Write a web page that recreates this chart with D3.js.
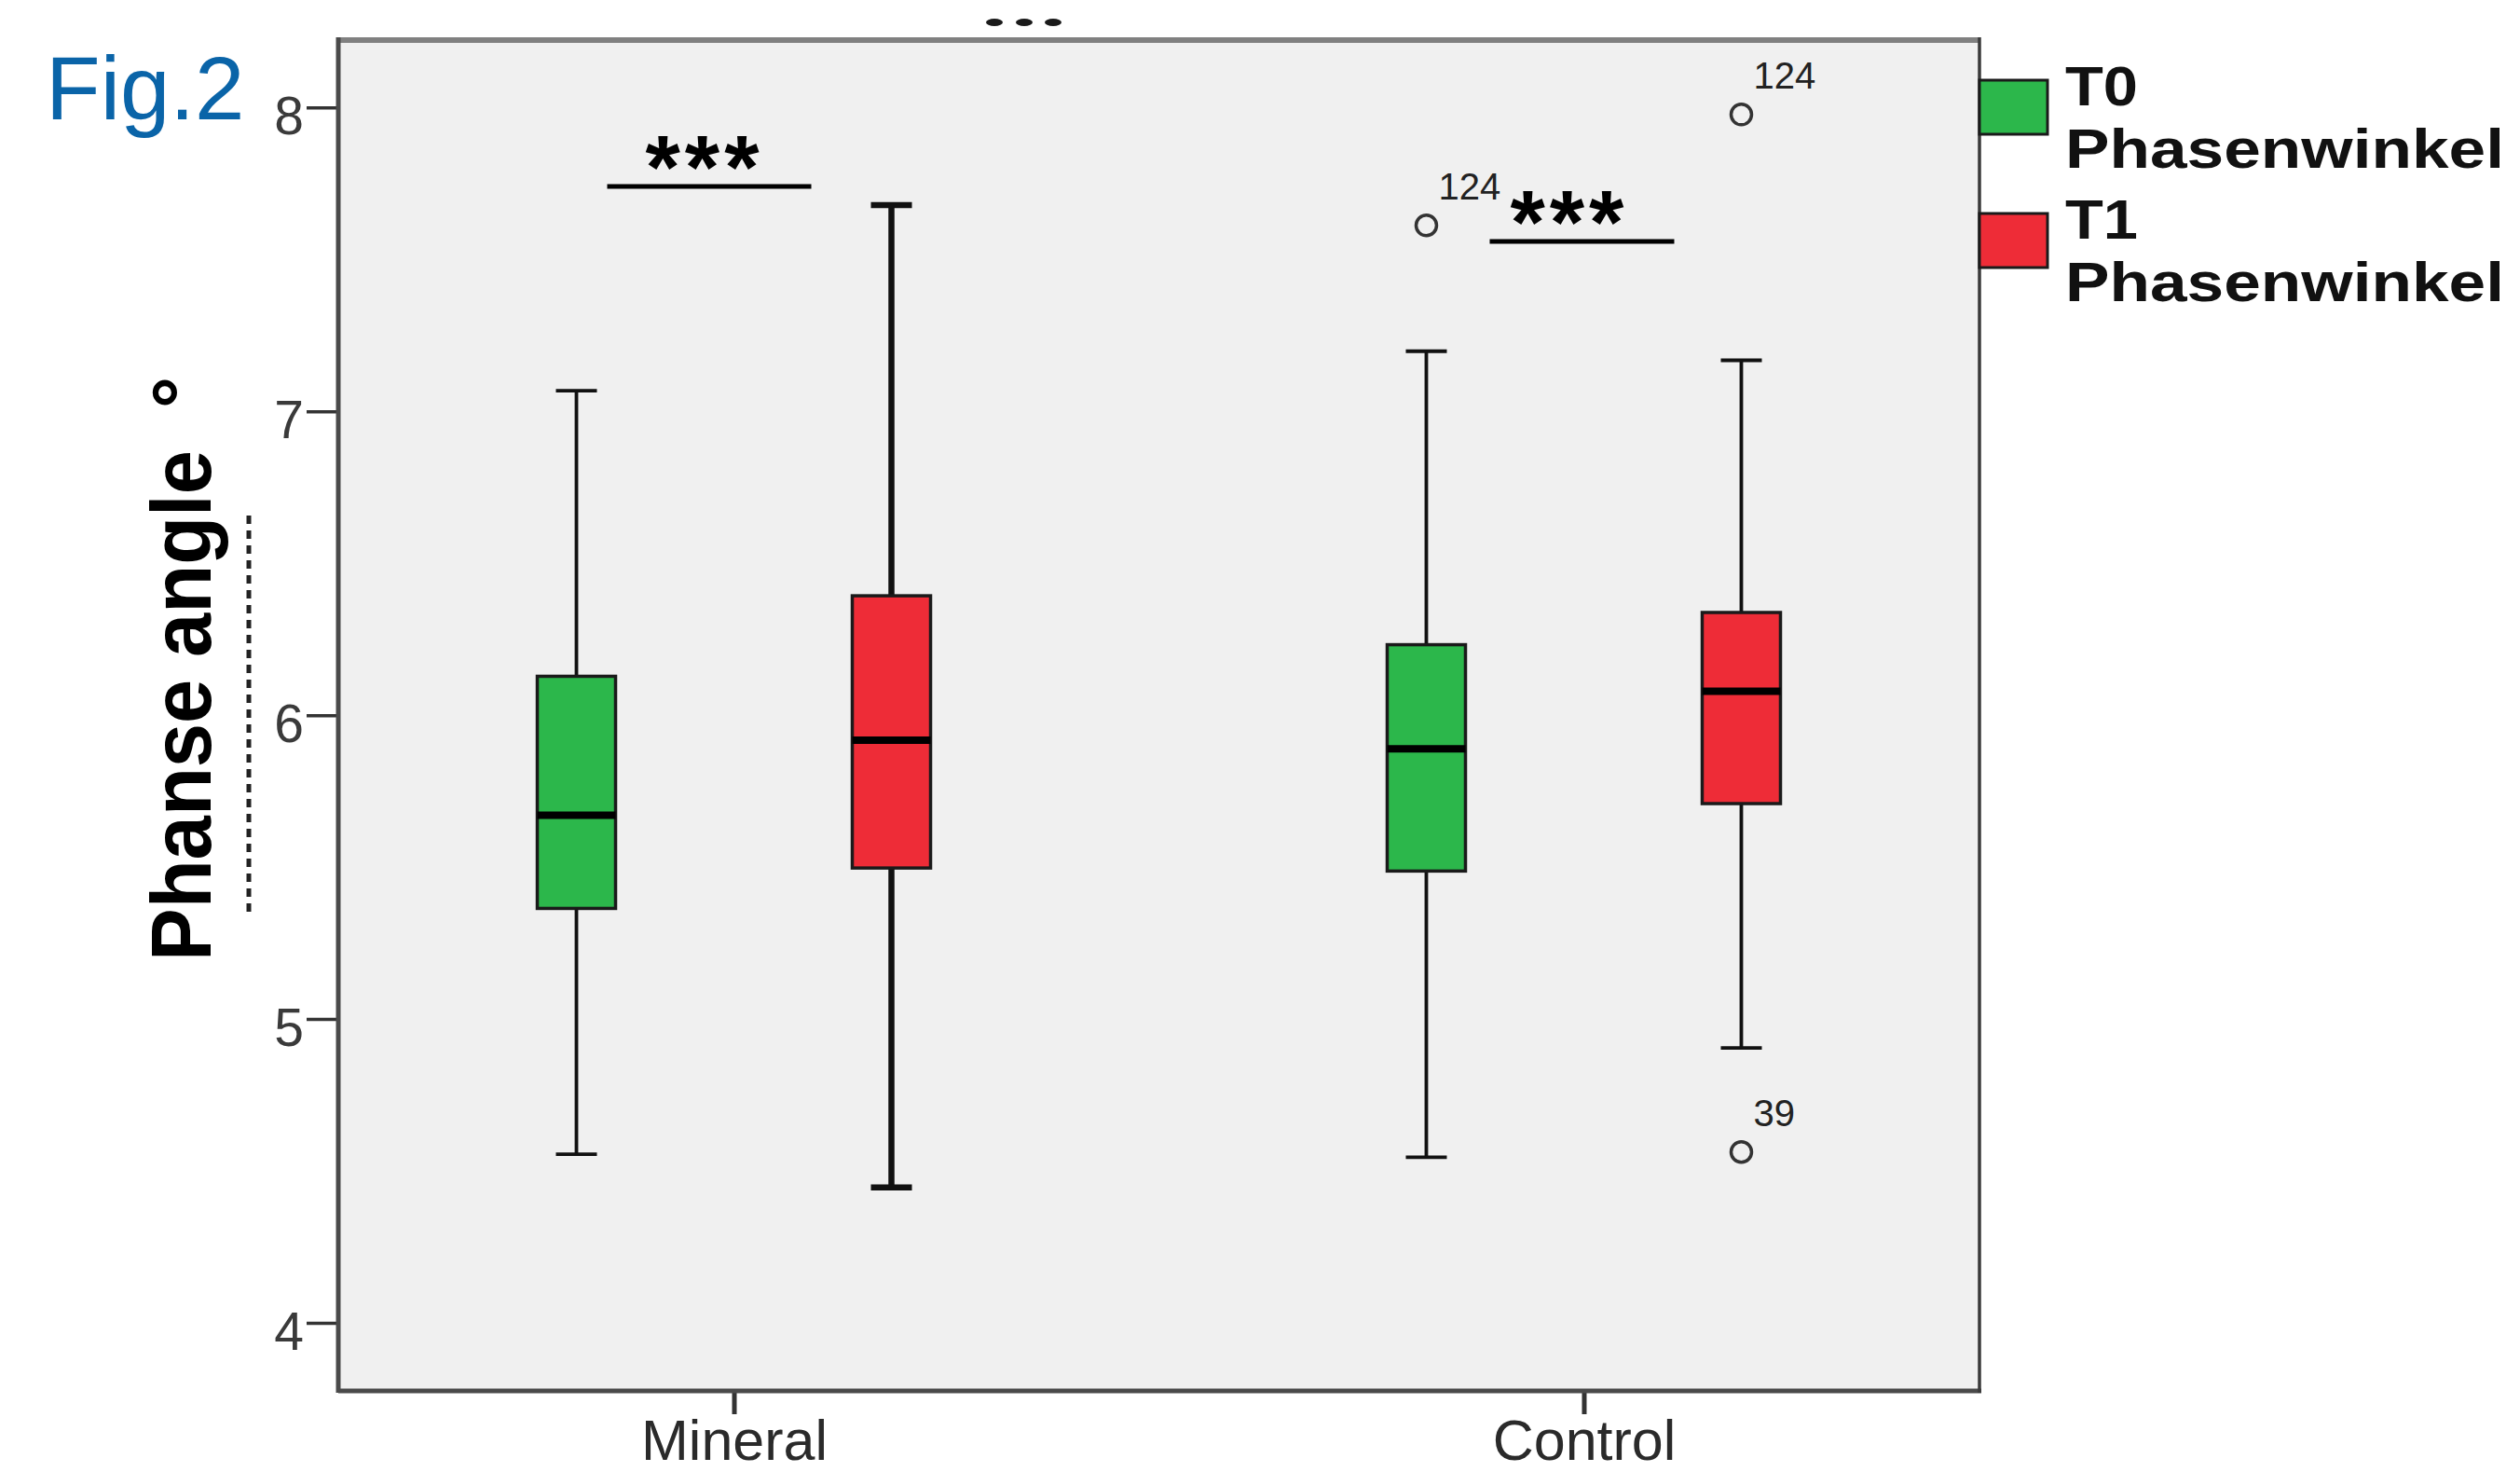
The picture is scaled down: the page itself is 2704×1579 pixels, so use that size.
<!DOCTYPE html>
<html><head><meta charset="utf-8">
<script src="https://cdn.jsdelivr.net/npm/d3@7"></script>
<style>
body{margin:0;background:#fff}
svg{display:block}
text{font-family:"Liberation Sans",Arial,Helvetica,sans-serif}
</style>
</head><body>
<svg id="c" width="2704" height="1579"></svg>
<script>
// ---------- data ----------
const groups = ["Mineral", "Control"];
const timepoints = ["T0", "T1"];
const legendTitles = ["T0", "T1"];
const legendSub = ["Phasenwinkel", "Phasenwinkel"];
const yTicks = [4, 5, 6, 7, 8];
// [group][timepoint]
const whiskerLow  = [[4.555, 4.446], [4.545, 4.905]];
const q1          = [[5.364, 5.497], [5.487, 5.709]];
const median      = [[5.671, 5.918], [5.889, 6.079]];
const q3          = [[6.128, 6.393], [6.232, 6.338]];
const whiskerHigh = [[7.068, 7.679], [7.198, 7.168]];
const outlierGroup = ["Control", "Control", "Control"];
const outlierTime  = ["T0", "T1", "T1"];
const outlierValue = [7.612, 7.977, 4.562];
const outlierLabel = ["124", "124", "39"];
const sigGroup = ["Mineral", "Control"];
const sigValue = [7.740, 7.559];
const sigLabel = ["***", "***"];
const yTitle = "Phanse angle";
const figLabel = "Fig.2";

// ---------- layout ----------
const L = 363, R = 2124, T = 43, B = 1492;
const colors = {T0: "#2cb74b", T1: "#ee2c37"};
const svg = d3.select("#c");

const y = d3.scaleLinear().domain([3.776, 8.222]).range([B, T]);
const x = d3.scalePoint().domain(groups).range([L, R]).padding(0.4655);
const inner = d3.scalePoint().domain(timepoints).range([-169, 169]);

// plot background
svg.append("rect").attr("x", L).attr("y", T).attr("width", R - L).attr("height", B - T).attr("fill", "#f0f0f0");

// axes
const ya = svg.append("g").attr("transform", `translate(${L},0)`)
  .call(d3.axisLeft(y).tickValues(yTicks).tickSize(34).tickPadding(3).tickFormat(d3.format("d")));
ya.select(".domain").remove();
ya.selectAll(".tick line").attr("stroke", "#333").attr("stroke-width", 3.5);
ya.selectAll(".tick text").attr("font-size", 57).attr("fill", "#3a3a3a").attr("dy", "0.5em")
  .style("font-family", '"Liberation Sans",Arial,sans-serif');

const xa = svg.append("g").attr("transform", `translate(0,${B})`)
  .call(d3.axisBottom(x).tickSize(25).tickPadding(6));
xa.select(".domain").remove();
xa.selectAll(".tick line").attr("stroke", "#333").attr("stroke-width", 5);
xa.selectAll(".tick text").attr("font-size", 61).attr("fill", "#2a2a2a")
  .style("font-family", '"Liberation Sans",Arial,sans-serif');

// frame
svg.append("line").attr("x1", L).attr("x2", R).attr("y1", T).attr("y2", T).attr("stroke", "#808080").attr("stroke-width", 6);
svg.append("line").attr("x1", L).attr("x2", L).attr("y1", T - 3).attr("y2", B + 2).attr("stroke", "#4a4a4a").attr("stroke-width", 5);
svg.append("line").attr("x1", L).attr("x2", R + 2).attr("y1", B).attr("y2", B).attr("stroke", "#4a4a4a").attr("stroke-width", 5);
svg.append("line").attr("x1", R).attr("x2", R).attr("y1", T - 3).attr("y2", B + 2).attr("stroke", "#3a3a3a").attr("stroke-width", 3.5);

// boxes
const boxW = 84, capW = 44;
const boxes = [];
groups.forEach((g, gi) => timepoints.forEach((t, ti) => boxes.push({
  g, t, lo: whiskerLow[gi][ti], q1: q1[gi][ti], med: median[gi][ti], q3: q3[gi][ti], hi: whiskerHigh[gi][ti],
  heavy: gi === 0 && ti === 1
})));
const bg = svg.append("g");
boxes.forEach(b => {
  const cx = x(b.g) + inner(b.t);
  const ww = b.heavy ? 6.5 : 3.8;
  const gg = bg.append("g");
  gg.append("line").attr("x1", cx).attr("x2", cx).attr("y1", y(b.hi)).attr("y2", y(b.q3)).attr("stroke", "#111").attr("stroke-width", ww);
  gg.append("line").attr("x1", cx).attr("x2", cx).attr("y1", y(b.q1)).attr("y2", y(b.lo)).attr("stroke", "#111").attr("stroke-width", ww);
  gg.append("line").attr("x1", cx - capW / 2).attr("x2", cx + capW / 2).attr("y1", y(b.hi)).attr("y2", y(b.hi)).attr("stroke", "#111").attr("stroke-width", ww);
  gg.append("line").attr("x1", cx - capW / 2).attr("x2", cx + capW / 2).attr("y1", y(b.lo)).attr("y2", y(b.lo)).attr("stroke", "#111").attr("stroke-width", ww);
  gg.append("rect").attr("x", cx - boxW / 2).attr("y", y(b.q3)).attr("width", boxW).attr("height", y(b.q1) - y(b.q3))
    .attr("fill", colors[b.t]).attr("stroke", "#1a1a1a").attr("stroke-width", 3.5);
  gg.append("line").attr("x1", cx - boxW / 2).attr("x2", cx + boxW / 2).attr("y1", y(b.med)).attr("y2", y(b.med)).attr("stroke", "#000").attr("stroke-width", 8);
});

// outliers
outlierValue.forEach((v, i) => {
  const cx = x(outlierGroup[i]) + inner(outlierTime[i]);
  svg.append("circle").attr("cx", cx).attr("cy", y(v)).attr("r", 11).attr("fill", "none").attr("stroke", "#333").attr("stroke-width", 3.5);
  svg.append("text").attr("x", cx + 13).attr("y", y(v) - 28).attr("font-size", 40).attr("fill", "#222").text(outlierLabel[i]);
});

// significance bars
const sigSpan = [[-136, 83], [-101, 97]];
const sigTextDx = [-34, -18];
sigValue.forEach((v, i) => {
  const gx = x(sigGroup[i]);
  svg.append("line").attr("x1", gx + sigSpan[i][0]).attr("x2", gx + sigSpan[i][1]).attr("y1", y(v)).attr("y2", y(v))
    .attr("stroke", "#000").attr("stroke-width", 5);
  svg.append("text").attr("x", gx + sigTextDx[i]).attr("y", y(v) + 12).attr("text-anchor", "middle")
    .attr("font-size", 96).attr("font-weight", "bold").attr("fill", "#000")
    .attr("textLength", 122).attr("lengthAdjust", "spacing").text(sigLabel[i]);
});

// cut-off marks at top
[1067, 1099, 1130].forEach(cx => {
  svg.append("ellipse").attr("cx", cx).attr("cy", 24).attr("rx", 9).attr("ry", 4).attr("fill", "#1a1a1a");
});

// legend (two-line labels)
legendTitles.forEach((t, i) => {
  const sy = [86, 229][i];
  svg.append("rect").attr("x", R).attr("y", sy).attr("width", 73).attr("height", 58)
    .attr("fill", colors[timepoints[i]]).attr("stroke", "#1a1a1a").attr("stroke-width", 3);
  svg.append("text").attr("x", 2216).attr("y", [113, 256][i])
    .attr("font-size", 59).attr("font-weight", "bold").attr("fill", "#111")
    .attr("textLength", 78).attr("lengthAdjust", "spacingAndGlyphs").text(t);
  svg.append("text").attr("x", 2216).attr("y", [180, 323][i])
    .attr("font-size", 59).attr("font-weight", "bold").attr("fill", "#111")
    .attr("textLength", 471).attr("lengthAdjust", "spacingAndGlyphs").text(legendSub[i]);
});

// y title
svg.append("text").attr("transform", "translate(226,1031) rotate(-90)")
  .attr("font-size", 90).attr("font-weight", "bold").attr("fill", "#000")
  .attr("textLength", 548).attr("lengthAdjust", "spacingAndGlyphs").text(yTitle);
svg.append("text").attr("transform", "translate(223,421) rotate(-90)").attr("text-anchor", "middle")
  .attr("font-size", 86).attr("font-weight", "bold").attr("fill", "#000").text("°");
svg.append("line").attr("x1", 267).attr("x2", 267).attr("y1", 553).attr("y2", 984)
  .attr("stroke", "#222").attr("stroke-width", 5).attr("stroke-dasharray", "9,7");

// figure label
svg.append("text").attr("x", 49).attr("y", 128).attr("font-size", 96).attr("fill", "#0a64a8").text(figLabel);
</script>
</body></html>
